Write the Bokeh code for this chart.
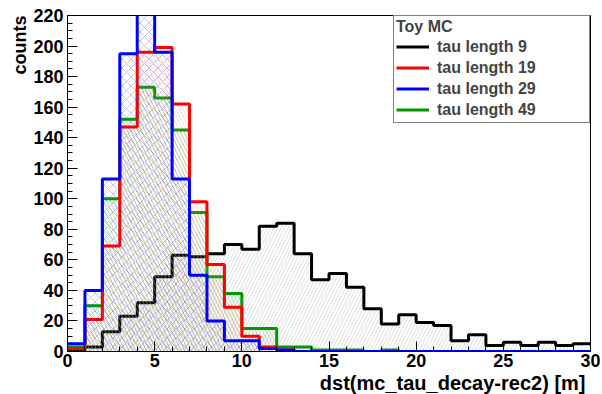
from bokeh.plotting import figure
from bokeh.models import Range1d, Legend, LegendItem, Title, SingleIntervalTicker
from bokeh.embed import file_html
from bokeh.resources import INLINE

# ---- data ----
bin_width = 1.0
n_bins = 30
tau9 = [1, 3, 13, 23, 32, 49, 63, 62, 64, 70, 67, 82, 84, 64, 47, 51, 42, 28, 18, 24,
        19, 17, 7, 11, 4, 6, 4, 6, 4, 5]
tau19 = [2, 21, 69, 147, 196, 199, 162, 98, 57, 29, 10, 3, 1, 0, 0, 0, 0, 0, 0, 0,
         0, 0, 0, 0, 0, 0, 0, 0, 0, 0]
tau29 = [5, 40, 113, 195, 228, 196, 113, 50, 20, 7, 7, 2, 1, 0, 0, 0, 0, 0, 0, 0,
         0, 0, 0, 0, 0, 0, 0, 0, 0, 0]
tau49 = [3, 30, 100, 152, 173, 166, 145, 91, 49, 38, 15, 15, 3, 3, 1, 1, 1, 0, 1, 0,
         0, 0, 0, 0, 0, 0, 0, 0, 0, 0]
labels = ["tau length 9", "tau length 19", "tau length 29", "tau length 49"]
legend_title = "Toy MC"
x_title = "dst(mc_tau_decay-rec2) [m]"
y_title = "counts"

FONT = "Liberation Sans"

p = figure(width=600, height=394, output_backend="svg", toolbar_location=None,
           x_range=Range1d(0, 30), y_range=Range1d(0, 220),
           min_border_left=67, min_border_right=10, min_border_top=15, min_border_bottom=43)
p.background_fill_color = "white"
p.border_fill_color = "white"
p.outline_line_color = "black"
p.outline_line_width = 1
p.xgrid.visible = False
p.ygrid.visible = False

lefts = [i * bin_width for i in range(n_bins)]
rights = [l + bin_width for l in lefts]

styles = {
    "tau9": dict(color="#000000", hatch="/", hcolor="#aaaaaa", halpha=0.4, hscale=7),
    "tau19": dict(color="#ff0000", hatch="\\", hcolor="#ff8080", halpha=0.35, hscale=7),
    "tau29": dict(color="#0000ff", hatch="x", hcolor="#3344dd", halpha=0.3, hscale=9),
    "tau49": dict(color="#009900", hatch="\\", hcolor="#33aa33", halpha=0.35, hscale=7),
}
series = {"tau9": tau9, "tau19": tau19, "tau29": tau29, "tau49": tau49}
renderers = {}
for key in ["tau9", "tau49", "tau19", "tau29"]:
    vals = series[key]
    st = styles[key]
    p.quad(left=lefts, right=rights, bottom=0, top=vals, fill_alpha=0, line_alpha=0,
           hatch_pattern=st["hatch"], hatch_color=st["hcolor"], hatch_alpha=st["halpha"],
           hatch_scale=st["hscale"], hatch_weight=1)
    xs = lefts + [rights[-1]]
    ys = vals + [vals[-1]]
    r = p.step(x=xs, y=ys, mode="after", line_color=st["color"], line_width=3)
    renderers[key] = r

items = [LegendItem(label=lab, renderers=[renderers[k]])
         for lab, k in zip(labels, ["tau9", "tau19", "tau29", "tau49"])]
legend = Legend(items=items, location="top_right", margin=0, padding=2, spacing=0,
                title=legend_title, title_text_font=FONT, title_text_font_style="bold",
                title_text_font_size="16px", title_standoff=0,
                label_text_font=FONT, label_text_font_style="bold", label_text_font_size="16px",
                label_height=21, glyph_height=21, glyph_width=33, label_standoff=8,
                label_width=150, border_line_color="black", border_line_width=1,
                background_fill_color="white", background_fill_alpha=1)
p.add_layout(legend, "center")

# axes
for ax in (p.xaxis, p.yaxis):
    ax.major_label_text_font = FONT
    ax.major_label_text_font_style = "bold"
    ax.major_label_text_font_size = "18px"
    ax.major_label_text_color = "black"
    ax.major_tick_in = 10
    ax.major_tick_out = 0
    ax.minor_tick_in = 5
    ax.minor_tick_out = 0
    ax.axis_line_color = "black"
    ax.major_tick_line_color = "black"
    ax.minor_tick_line_color = "black"
p.xaxis.ticker = SingleIntervalTicker(interval=5, num_minor_ticks=5)
p.yaxis.ticker = SingleIntervalTicker(interval=20, num_minor_ticks=4)
p.xaxis.major_label_standoff = 2
p.yaxis.major_label_standoff = 4

p.add_layout(Title(text=x_title, align="right", standoff=0, offset=5,
                   text_font=FONT, text_font_style="bold", text_font_size="20px",
                   text_color="black"), "below")
p.add_layout(Title(text=y_title, align="right", standoff=2, offset=0,
                   text_font=FONT, text_font_style="bold", text_font_size="18px",
                   text_color="black"), "left")

open("out.html", "w").write(file_html(p, INLINE))
